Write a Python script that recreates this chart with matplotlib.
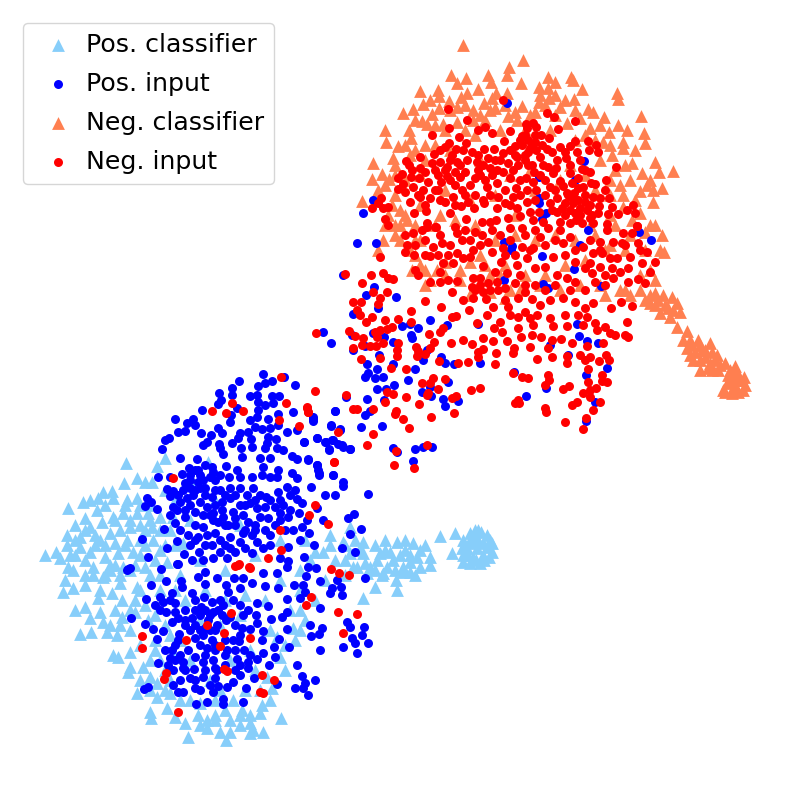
import matplotlib
matplotlib.use("Agg")
import matplotlib.pyplot as plt

# Embedding positions (x, y in a 790 x 785 embedding frame, y downward)
pos_classifier = [
(126,463),(165,458),(157,466),(208,462),(124,483),(137,478),(145,482),(152,482),(103,492),(112,491),(98,498),(83,502),
(68,508),(127,500),(137,498),(113,498),(97,510),(85,518),(75,525),(67,535),(67,545),(45,555),(56,552),(60,558),(80,537),
(80,547),(90,527),(102,522),(113,517),(123,513),(137,513),(148,513),(110,533),(120,530),(130,527),(140,525),(152,527),
(160,517),(115,543),(127,540),(153,540),(90,552),(105,557),(118,553),(133,552),(160,550),(173,517),(183,543),(68,567),
(93,567),(123,567),(145,567),(167,562),(165,490),(150,505),(170,530),(140,540),(100,540),(85,560),(110,565),
(363,542),(375,545),(343,542),(350,527),(397,542),(413,543),(425,545),(440,536),(455,533),(452,553),(405,550),(380,553),
(363,553),(350,553),(323,552),(335,560),(377,560),(393,560),(410,562),(430,557),(417,557),(400,555),(370,567),(387,567),
(403,567),(420,567),(357,567),(396,580),(415,575),(382,575),(403,572),(345,560),(310,560),(300,570),
(478,530),(470,533),(487,535),(463,540),(478,540),(492,543),(467,548),(477,548),(487,547),(492,552),(463,555),(473,557),
(483,555),(470,563),(480,563),(463,562),(474,536),(483,543),(471,543),
(63,592),(73,588),(85,585),(93,575),(103,577),(75,610),(85,607),(98,598),(100,612),(112,593),(122,600),(90,618),(103,622),
(80,634),(91,632),(107,632),(117,635),(122,617),(135,612),(130,652),(113,655),(118,657),(130,667),(128,672),(150,677),
(137,693),(157,697),(150,712),(151,718),(167,708),(175,717),(185,723),(188,737),(198,715),(207,720),(207,728),(220,732),
(226,740),(230,720),(230,732),(242,710),(250,723),(253,730),(263,732),(262,705),(281,718),(272,688),(170,693),(175,657),
(150,660),(143,667),(157,683),(200,703),(233,700),(260,713),(250,733),(293,628),(280,657),(277,637),(267,677),(363,598),
(397,590),(375,587),(367,573),(383,573),(353,567),(73,570),(65,580),(137,587),(120,583),(110,570),(130,570),
(150,575),(160,590),(135,600),(148,620),(130,630),(140,645),(155,650),(165,625),(185,600),(205,590),(225,600),(245,595),
(265,600),(280,580),(300,590),(290,610),(270,630),(250,650),(230,660),(210,680),(190,700),(215,700),(245,690),(190,660),
(165,670),(180,640),(200,620),(220,625),(240,615),(180,575),(200,560),(225,570),(255,555),(280,540),(305,540),(330,535),
(190,520),(215,500),(240,525),(190,480),(175,500),(140,555),(120,575),(100,590),(120,625),(255,670),(285,645),(300,610),
(155,640),(165,690),(215,715),(240,725),(220,690),(260,690),
]

pos_classifier_fill = [
(90,500),(105,505),(125,505),(140,505),(75,540),(85,530),(95,535),(105,545),(115,520),(130,520),(145,530),(150,520),
(160,530),(165,545),(75,555),(95,545),(125,545),(145,545),(115,565),(135,565),(155,560),(105,575),(85,575),(70,555),
(175,545),(160,575),(175,590),(140,590),(130,610),(115,610),(110,625),(145,605),(155,615),(170,635),(160,660),(140,680),
(150,690),(170,680),(180,700),(200,725),(215,720),(225,710),(240,715),(250,715),(270,700),(285,670),(295,640),(305,620),
(315,600),(300,630),(325,580),(345,575),(355,540),(360,550),(385,550),(390,552),(410,555),(420,550),(385,540),(405,540),
(430,565),(375,570),(365,563),(395,570),(410,572),(345,545),(330,545),(315,552),
(470,540),(481,532),(475,530),(490,540),(468,555),(476,560),(484,560),(462,548),(489,557),
]

pos_input = [
(263,374),(239,381),(284,377),(272,381),(265,383),(258,386),(295,385),(232,388),(232,395),(219,393),(221,400),(218,404),
(250,396),(257,395),(272,396),(279,396),(273,403),(258,402),(265,405),(258,410),(202,410),(237,408),(231,415),(230,422),
(250,420),(257,417),(268,419),(278,414),(293,412),(255,427),(262,429),(270,428),(278,425),(287,432),(297,430),(313,419),
(335,411),(331,425),(340,429),(175,419),(187,423),(193,419),(195,425),(178,432),(185,431),(201,433),(218,428),(222,433),
(211,435),(240,433),(248,432),(165,440),(169,438),(162,449),(207,442),(203,445),(219,444),(220,448),(223,454),(232,443),
(238,438),(251,439),(252,447),(241,448),(268,437),(276,439),(267,443),(265,448),(277,448),(283,450),(304,442),(317,438),
(325,442),(332,440),(329,449),(342,445),(350,449),(270,458),(260,458),(242,457),(292,456),(297,459),(308,459),(317,465),
(318,470),(319,475),(333,475),(343,482),(343,486),(311,487),(180,458),(197,459),(189,468),(198,470),(212,467),(213,472),
(226,466),(237,470),(240,477),(229,477),(252,477),(263,467),(262,475),(278,470),(277,477),(292,473),(297,478),(270,477),
(158,477),(170,477),(182,474),(203,480),(210,477),(198,482),(185,483),(190,488),(215,490),(200,488),(167,489),(173,491),
(170,496),(147,498),(151,502),(145,506),(157,509),(173,507),(180,502),(187,498),(193,495),(200,502),(207,507),(230,488),
(240,488),(253,488),(247,495),(260,495),(266,497),(278,492),(287,487),(295,490),(297,499),(283,505),(302,503),(325,495),
(335,495),(368,494),(317,508),(299,513),(290,510),(275,507),(265,507),(257,508),(250,503),(240,505),(230,498),(222,502),
(222,510),(213,513),(203,515),(195,512),(185,517),(195,525),(203,527),(213,520),(223,517),(233,512),(243,515),(248,522),
(260,517),(268,518),(280,513),(288,517),(307,520),(302,527),(293,530),(309,533),(175,523),(180,530),(188,535),(198,537),
(164,529),(215,533),(230,537),(243,533),(252,535),(240,542),(257,542),(270,545),(263,548),(288,547),(300,540),(314,545),
(323,520),(348,518),(354,514),(361,529),(350,534),(342,548),(355,552),(142,539),(177,541),(167,548),(184,554),(148,557),
(192,560),(199,552),(203,560),(212,545),(220,552),(227,558),(213,558),(252,553),(280,558),(288,561),(304,557),(178,564),
(130,568),(127,570),(190,505),(205,495),(215,505),(225,525),(235,525),(255,525),(190,545),(207,535),
(128,569),(161,569),(177,564),(205,572),(198,577),(166,581),(151,585),(181,581),(182,587),(205,584),(217,578),(226,585),
(234,578),(243,578),(252,583),(240,588),(263,573),(277,573),(265,586),(278,588),(294,585),(287,567),(308,567),(306,576),
(316,568),(320,581),(303,585),(305,592),(300,598),(332,588),(341,587),(342,595),(330,593),(337,580),(365,578),(146,599),
(160,597),(172,593),(192,593),(228,592),(204,597),(155,605),(163,602),(175,603),(166,612),(175,612),(172,622),(185,610),
(192,618),(201,607),(212,602),(213,612),(223,605),(233,600),(230,617),(243,615),(257,603),(256,615),(268,606),(287,599),
(287,612),(282,617),(271,619),(257,623),(287,629),(242,628),(250,629),(263,631),(320,608),(131,618),(145,624),(153,629),
(163,631),(157,639),(179,634),(195,625),(217,625),(203,635),(195,638),(212,640),(233,640),(239,641),(279,639),(175,645),
(188,650),(172,650),(170,658),(195,657),(207,648),(227,650),(244,650),(263,653),(274,647),(289,647),(275,657),(257,659),
(237,659),(213,660),(203,662),(158,663),(183,662),(183,668),(173,670),(194,669),(217,670),(248,662),(248,668),(269,665),
(203,677),(240,675),(233,682),(254,678),(180,680),(173,685),(148,687),(144,689),(210,685),(218,686),(227,687),(195,688),
(178,692),(183,692),(213,692),(246,688),(277,684),(223,699),(223,704),(207,702),(196,704),(243,702),(297,665),(302,676),
(315,680),(305,683),(295,688),(303,688),(308,695),(310,625),(311,636),(322,628),(319,634),(320,650),(347,622),(350,627),
(364,627),(362,635),(352,638),(343,647),(355,643),(368,643),(357,653),(200,615),(208,620),(215,630),(222,615),(205,628),
(215,650),(225,640),(205,610),(195,610),(185,625),
(357,243),(376,243),(343,275),(374,287),(366,295),(396,297),(378,308),(353,314),(430,320),(402,326),(410,324),(418,328),
(447,325),(478,324),(411,335),(412,338),(323,332),(331,343),(352,335),(373,333),(384,337),(393,342),(353,350),(365,346),
(427,350),(379,355),(423,360),(441,357),(445,363),(454,364),(480,363),(393,364),(367,364),(415,369),(368,373),(377,369),
(365,377),(375,378),(383,377),(408,380),(394,385),(448,382),(377,389),(386,389),(422,392),(431,396),(430,387),(346,397),
(367,399),(384,400),(443,399),(458,401),(445,406),(335,411),(365,415),(370,411),(313,417),(313,421),(331,426),(340,430),
(361,427),(382,426),(304,442),(317,438),(326,442),(333,440),(338,444),(343,447),(350,449),(329,450),(393,448),(397,452),
(415,449),(423,447),(432,447),(413,461),(308,460),(317,465),(319,473),(333,475),
(639,232),(651,240),(588,230),(504,242),(512,246),(511,250),(542,256),(580,245),(574,269),(601,286),(504,280),(543,284),
(548,288),(577,324),(579,336),(587,341),(598,343),(550,345),(568,355),(607,368),(586,375),(514,372),(526,396),(546,388),
(586,421),(595,402),(507,103),(584,161),(575,180),(539,177),(539,198),(539,203),(546,213),(373,200),(363,213),(542,219),
]

pos_input_dense = [
(183,490),(178,495),(190,480),(195,490),(205,488),(212,497),(220,490),(225,495),(235,495),(245,505),(255,500),(270,500),
(280,500),(290,495),(210,515),(218,522),(228,525),(235,518),(245,530),(255,530),(265,530),(275,525),(280,520),(285,530),
(270,535),(220,540),(205,545),(195,540),(230,548),(235,552),(225,545),(245,548),(195,470),(205,465),(200,475),(190,475),
(215,480),(220,475),(185,510),(170,515),(177,510),
(210,615),(218,610),(226,620),(235,625),(210,630),(200,630),(190,630),(215,645),(225,655),(205,655),(215,668),(225,665),
(235,650),(240,635),(200,645),(220,600),(195,600),(240,605),(248,610),(185,620),(178,640),(185,670),(190,678),(175,660),
(165,650),(180,655),(168,665),(200,690),(205,670),(195,680),(235,670),(250,655),(262,640),(240,665),(215,678),(170,600),
(160,610),(178,618),
]

neg_classifier = [
(463,45),(523,60),(509,67),(507,75),(451,75),(488,75),(466,78),(457,83),(491,82),(521,83),(548,77),(571,77),(573,80),
(555,82),(539,87),(548,88),(582,89),(617,93),(618,99),(420,91),(438,90),(439,96),(478,89),(467,93),(461,97),(496,93),
(507,93),(492,98),(484,103),(449,101),(423,104),(439,108),(457,107),(473,110),(490,110),(522,106),(539,102),(549,98),
(560,107),(574,99),(588,109),(593,112),(604,117),(641,116),(403,113),(413,109),(432,114),(422,121),(427,124),(443,124),
(457,122),(473,120),(508,116),(517,120),(535,112),(567,123),(580,118),(618,125),(627,130),(609,132),(590,128),(385,130),
(386,142),(409,130),(411,138),(644,133),(645,143),(623,142),(623,148),(603,142),(398,146),(425,145),(393,158),(373,163),
(612,155),(655,162),(632,163),(673,171),(659,172),(642,173),(382,174),(372,179),(389,179),(647,185),(662,188),(653,190),
(640,191),(623,195),(378,190),(362,201),(653,202),(623,207),(640,213),(400,210),(407,220),
(385,225),(395,235),(410,250),(420,265),(430,280),(445,262),(460,280),(470,262),(388,215),(400,225),(383,240),(378,250),
(412,270),(425,285),(415,240),(435,225),(455,220),(475,225),(495,240),(515,235),(535,240),(555,235),(575,240),(595,235),
(615,225),(632,220),(645,232),(650,225),(625,250),(605,250),(585,260),(565,265),(545,275),(525,275),(505,265),(485,265),
(470,295),(490,275),(510,290),(640,290),(625,290),(605,295),(420,205),(440,215),(470,200),(495,195),(515,215),(535,190),
(560,180),(585,175),(610,180),(600,160),(575,140),(550,130),(525,130),(500,130),(475,135),(450,150),(425,160),(405,180),
(395,195),(420,175),(445,190),(480,160),(510,175),(530,170),(570,165),(595,190),(610,215),(590,225),
(662,235),(664,252),(655,293),(663,295),(672,297),(677,303),(680,312),(650,303),(660,313),(670,317),(677,327),(687,331),
(698,340),(710,343),(687,348),(695,352),(717,355),(705,357),(693,360),(725,363),(710,363),(700,370),(712,370),(735,366),
(744,377),(728,375),(737,380),(723,390),(733,388),(743,390),(732,393),(727,383),(655,305),(665,305),(702,350),(712,352),
(738,374),(735,385),
]

neg_classifier_fill = [
(430,100),(450,110),(465,105),(480,115),(495,108),(505,105),(515,112),(530,115),(545,105),(555,115),(565,100),(575,110),
(540,95),(555,95),(600,125),(585,135),(595,140),(435,125),(415,120),(445,130),(465,130),(485,120),(405,145),(415,150),
(435,145),(395,165),(385,185),(395,175),(410,155),(610,145),(625,165),(635,150),(615,170),(650,180),(630,180),(635,200),
(620,185),(610,195),(395,225),(405,215),(392,205),(415,225),(420,240),(400,240),(415,255),(425,270),(437,270),(445,275),
(460,270),(480,255),(500,275),(520,290),(540,285),(560,290),(580,285),(600,285),(620,290),(630,295),(645,300),(655,280),
(650,270),(640,275),(660,250),(655,225),(645,250),(630,235),(610,245),(470,295),(490,292),(505,298),
(650,295),(658,300),(668,308),(673,310),(683,340),(690,340),(700,345),(692,345),(705,350),(715,360),(700,360),(708,368),
(720,365),(690,355),(718,370),(740,380),(730,370),(725,392),(738,392),(745,385),(735,375),(730,380),
]

neg_input = [
(448,109),(503,100),(467,120),(547,113),(554,117),(575,121),(558,129),(449,128),(432,135),(485,127),(478,130),(492,133),
(510,131),(526,124),(533,123),(536,127),(504,141),(522,136),(541,135),(549,138),(575,141),(588,141),(596,145),(589,150),
(598,152),(459,137),(466,143),(449,143),(445,147),(456,149),(472,152),(484,149),(494,149),(510,150),(522,145),(532,145),
(547,149),(560,147),(570,146),(577,152),(434,154),(420,157),(406,161),(409,165),(432,163),(420,168),(440,162),(447,167),
(457,162),(467,160),(477,162),(483,165),(495,160),(503,153),(517,157),(525,155),(540,157),(557,160),(566,158),(580,160),
(582,169),(616,167),(606,180),(402,174),(411,177),(419,178),(403,184),(398,189),(413,187),(428,182),(423,190),(438,190),
(450,180),(460,177),(470,185),(487,187),(492,175),(503,172),(513,170),(520,180),(532,165),(540,175),(548,167),(553,173),
(560,181),(550,187),(570,173),(591,183),(595,184),(578,188),(593,197),(567,193),(557,198),(536,190),(513,197),(505,190),
(497,183),(483,200),(465,195),(453,197),(440,200),(430,198),(420,197),(410,202),(381,198),(378,203),(372,208),(383,208),
(388,207),(414,213),(426,211),(450,213),(461,206),(474,208),(484,203),(497,208),(505,203),(517,208),(527,202),(530,212),
(520,216),(539,212),(557,212),(550,203),(565,203),(573,203),(580,208),(585,202),(575,213),(599,206),(609,198),(612,207),
(608,214),(592,215),(618,214),(627,210),(633,205),(635,213),(385,219),(388,225),(466,219),(482,222),(496,220),(508,218),
(427,223),(435,227),(455,227),(533,220),(543,222),(560,222),(570,223),(582,223),(593,223),(607,224),(637,226),
(528,140),(525,135),(530,148),(520,140),(535,142),(515,155),(525,160),(460,165),(450,160),(455,172),(445,170),(438,175),
(465,172),(480,175),(568,195),(575,200),(570,210),(585,195),(580,215),(565,215),(590,205),
(405,235),(413,233),(407,245),(415,245),(405,252),(414,255),(427,227),(422,230),(436,227),(442,243),(433,247),(430,256),
(448,255),(457,253),(470,257),(457,233),(465,230),(482,235),(492,230),(488,242),(503,248),(492,252),(501,262),(483,266),
(473,250),(463,258),(453,263),(443,263),(440,272),(415,270),(418,275),(430,282),(440,282),(448,280),(457,281),(473,278),
(472,287),(480,285),(488,283),(497,282),(498,290),(505,288),(515,283),(507,273),(517,265),(527,258),(522,247),(525,235),
(540,237),(533,248),(553,257),(545,267),(557,275),(567,278),(575,282),(563,243),(570,237),(583,247),(593,253),(602,253),
(617,258),(628,268),(620,272),(612,268),(600,267),(590,263),(592,273),(595,282),(613,278),(628,282),(645,283),(638,279),
(650,272),(655,262),(647,252),(638,243),(630,257),(642,263),(622,243),(623,233),(632,233),(637,226),(607,230),(613,242),
(600,242),(452,292),(463,300),(473,298),(469,310),(486,299),(487,315),(493,307),(505,300),(508,307),(510,315),(518,317),
(518,298),(525,292),(532,299),(525,312),(530,318),(537,315),(540,305),(550,300),(550,318),(563,298),(565,315),(575,302),
(585,308),(593,303),(578,315),(587,317),(595,323),(621,302),(632,306),(611,308),(627,322),(425,301),(441,307),
(500,322),(518,328),(477,323),(494,328),(502,332),(483,338),(493,341),(507,341),(521,337),(532,335),(533,325),(541,337),
(552,340),(553,326),(561,339),(567,326),(572,343),(583,325),(597,330),(605,327),(610,333),(615,335),(625,335),(628,337),
(603,343),(587,346),(530,347),(548,348),(514,348),(513,353),(496,353),(495,364),(483,349),(478,352),(478,357),(472,344),
(463,340),(451,343),(468,362),(458,363),(439,361),(537,359),(552,357),(567,356),(567,363),(580,355),(585,360),(590,357),
(588,369),(606,355),(609,360),(599,361),(513,373),(522,377),(528,378),(548,375),(549,380),(545,385),(602,375),(607,382),
(602,381),(588,382),(596,388),(569,386),(563,389),(583,393),(590,390),(590,397),(600,402),(593,410),(577,402),(572,405),
(518,400),(515,403),(519,403),(545,408),(546,412),(586,418),(565,422),(583,429),(480,388),(471,390),
(380,257),(345,274),(371,275),(383,273),(388,278),(393,279),(362,283),(373,292),(387,292),(380,298),(353,302),(361,302),
(378,304),(357,310),(360,315),(372,317),(366,322),(385,320),(398,319),(411,311),(411,322),(452,317),(456,316),(443,328),
(440,332),(392,327),(387,329),(380,330),(375,332),(377,337),(349,331),(355,336),(316,333),(363,338),(362,345),(370,346),
(376,346),(383,343),(353,348),(398,343),(397,350),(397,356),(429,334),(434,342),(430,348),(425,354),(416,347),(418,351),
(417,356),(361,359),(380,358),(391,368),(406,369),(445,379),(433,378),(430,383),(422,383),(438,389),(428,393),(427,395),
(387,392),(393,394),(385,402),(406,397),(419,404),(315,391),(346,395),(452,398),(456,396),(454,413),(431,417),(307,408),
(308,412),(353,409),(357,409),(373,409),(396,411),(395,414),(403,419),(409,428),(338,432),(373,434),(367,445),(396,451),
(427,445),(334,462),(394,465),(414,468),
(281,377),(232,403),(212,411),(226,413),(243,411),(286,403),(307,407),(308,412),(279,420),(299,426),(173,478),(334,462),
(315,505),(309,515),(328,524),(280,530),(281,550),(268,558),(235,566),(239,564),(249,567),(331,569),
(238,565),(250,568),(339,573),(349,575),(311,597),(306,605),(338,612),(357,614),(231,613),(207,625),(224,633),(343,633),
(142,636),(186,640),(250,638),(220,646),(142,648),(224,669),(227,671),(166,673),(164,679),(262,675),(274,680),(260,692),
(263,693),(178,712),
]

neg_input_dense = [
(440,150),(452,155),(463,150),(478,155),(488,158),(500,160),(508,163),(518,165),(528,152),(536,150),(542,145),(527,128),
(535,135),(515,146),(528,165),(534,172),(552,152),(565,152),(543,165),(556,168),(570,165),(585,170),(578,178),(572,183),
(590,172),(412,170),(425,172),(435,170),(441,182),(447,176),(455,185),(462,190),(475,178),(478,170),(485,180),(490,168),
(497,170),(510,178),(516,188),(526,178),(527,190),(533,182),(545,180),(555,190),(563,186),(574,193),(583,187),(587,210),
(398,178),(405,192),(418,195),(425,205),(435,190),(445,202),(455,205),(468,202),(475,195),(490,195),(498,197),(510,205),
(520,195),(535,200),(545,195),(552,210),(562,208),(570,197),(578,200),(598,213),(600,198),(605,190),(590,218),(576,220),
(560,230),(548,228),(535,230),(522,228),(510,228),(500,235),(490,222),(475,232),(462,240),(450,245),(440,235),(425,240),
(425,255),(438,255),(470,240),(480,245),(510,240),(515,255),(505,255),(530,250),(545,245),(555,240),(575,250),(590,240),
(600,250),(610,258),(585,268),(575,262),(565,255),(535,268),(520,275),(495,272),(480,278),(605,275),(625,245),(640,250),
(475,290),(483,292),(490,290),(605,285),(585,290),(570,290),(555,285),(545,290),(535,285),(525,285),
]

labels = ["Pos. classifier", "Pos. input", "Neg. classifier", "Neg. input"]
colors = ["lightskyblue", "blue", "coral", "red"]
markers = ["^", "o", "^", "o"]
sizes = [85, 42, 85, 42]
series = [pos_classifier + pos_classifier_fill, pos_input + pos_input_dense,
          neg_classifier + neg_classifier_fill, neg_input + neg_input_dense]
zorders = [1, 3, 2, 4]

fig = plt.figure(figsize=(7.9, 7.85), dpi=100)
ax = fig.add_axes([0, 0, 1, 1])
for pts, lab, c, m, s, z in zip(series, labels, colors, markers, sizes, zorders):
    xs, ys = zip(*pts)
    ax.scatter(xs, ys, s=s, c=c, marker=m, label=lab, linewidths=0, zorder=z)
ax.set_xlim(0, 790)
ax.set_ylim(785, 0)
ax.axis("off")
leg = ax.legend(loc="upper left", bbox_to_anchor=(23/790, 1-23/785), borderaxespad=0,
                fontsize=18.2, frameon=True, handletextpad=0.08, labelspacing=0.59)
leg.set_zorder(10)
fig.savefig("out.png", dpi=100)
